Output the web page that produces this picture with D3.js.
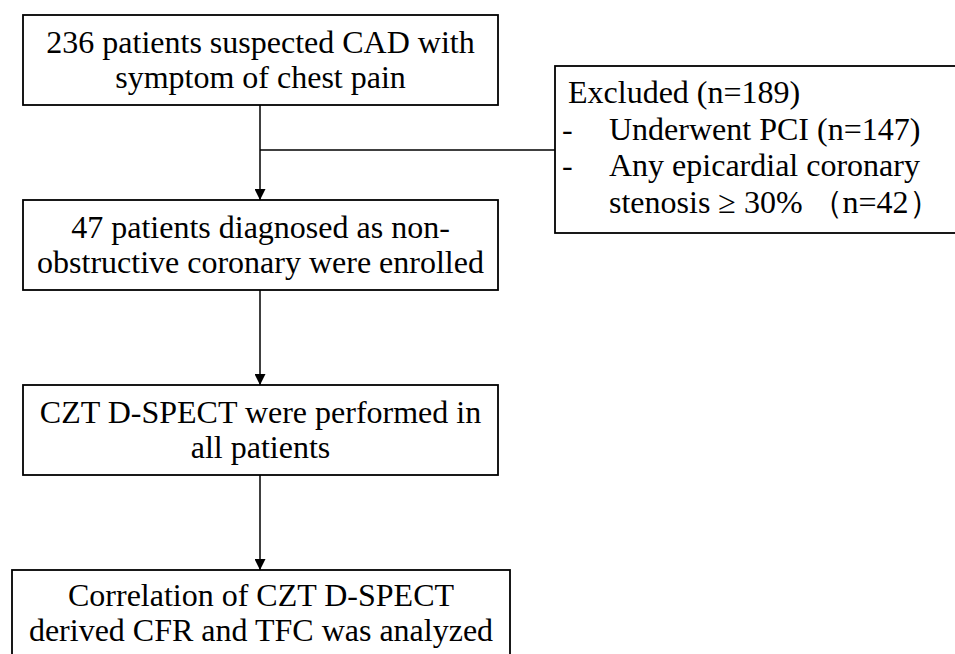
<!DOCTYPE html>
<html>
<head>
<meta charset="utf-8">
<script src="https://cdn.jsdelivr.net/npm/d3@7"></script>
<style>
  html, body { margin: 0; padding: 0; background: #fff; }
  svg { display: block; }
  text { font-family: "Liberation Serif", "Times New Roman", serif; font-size: 32px; fill: #000; }
</style>
</head>
<body>
<svg id="flow"></svg>
<script>
// flow steps, top to bottom
const stepLines = [
  ["236 patients suspected CAD with", "symptom of chest pain"],
  ["47 patients diagnosed as non-", "obstructive coronary were enrolled"],
  ["CZT D-SPECT were performed in", "all patients"],
  ["Correlation of CZT D-SPECT", "derived CFR and TFC was analyzed"]
];

// exclusion box
const excludedTitle = "Excluded (n=189)";
const excludedItems = [
  ["Underwent PCI (n=147)"],
  ["Any epicardial coronary", "stenosis \u2265 30% \uFF08n=42\uFF09"]
];

const W = 955, H = 654;

const svg = d3.select("#flow")
  .attr("width", W)
  .attr("height", H);

// box geometry (top edges of each step)
const boxTop = [15, 200, 385, 570];
const boxH = 90;
const boxX = [[23, 498], [23, 498], [23, 498], [12, 510]];
const cx = 260;

svg.append("defs").append("marker")
  .attr("id", "arrow")
  .attr("viewBox", "0 0 10 10")
  .attr("refX", 10).attr("refY", 5)
  .attr("markerWidth", 11).attr("markerHeight", 11)
  .attr("markerUnits", "userSpaceOnUse")
  .attr("orient", "auto")
  .append("path")
  .attr("d", "M0,0L10,5L0,10Z")
  .attr("fill", "#000");

// connectors
for (let i = 0; i < stepLines.length - 1; i++) {
  svg.append("line")
    .attr("x1", cx).attr("x2", cx)
    .attr("y1", boxTop[i] + boxH)
    .attr("y2", boxTop[i + 1])
    .attr("stroke", "#000")
    .attr("stroke-width", 1.5)
    .attr("marker-end", "url(#arrow)");
}

// step boxes
const steps = svg.selectAll("g.step")
  .data(stepLines)
  .join("g")
  .attr("class", "step");

steps.append("rect")
  .attr("x", (d, i) => boxX[i][0])
  .attr("y", (d, i) => boxTop[i])
  .attr("width", (d, i) => boxX[i][1] - boxX[i][0])
  .attr("height", (d, i) => i === stepLines.length - 1 ? 200 : boxH)
  .attr("fill", "#fff")
  .attr("stroke", "#000")
  .attr("stroke-width", 1.8);

steps.each(function(d, i) {
  const g = d3.select(this);
  const mid = (boxX[i][0] + boxX[i][1]) / 2;
  g.selectAll("text")
    .data(d)
    .join("text")
    .attr("x", mid)
    .attr("y", (t, j) => boxTop[i] + (i === 3 ? 36 : 38) + j * 35)
    .attr("text-anchor", "middle")
    .text(t => t);
});

// exclusion branch
const exX = 555, exTop = 66, exBottom = 233;
svg.append("line")
  .attr("x1", cx).attr("x2", exX)
  .attr("y1", 150).attr("y2", 150)
  .attr("stroke", "#000")
  .attr("stroke-width", 1.5);

svg.append("rect")
  .attr("x", exX).attr("y", exTop)
  .attr("width", W - exX + 10)
  .attr("height", exBottom - exTop)
  .attr("fill", "none")
  .attr("stroke", "#000")
  .attr("stroke-width", 1.8);

const exG = svg.append("g");
const exLineH = 36.5;

exG.append("text")
  .attr("x", 568).attr("y", 103)
  .text(excludedTitle);

let row = 1;
excludedItems.forEach(item => {
  exG.append("text")
    .attr("x", 562).attr("y", 103 + row * exLineH)
    .text("-");
  item.forEach(t => {
    exG.append("text")
      .attr("x", 609).attr("y", 103 + row * exLineH)
      .text(t);
    row++;
  });
});
</script>
</body>
</html>
